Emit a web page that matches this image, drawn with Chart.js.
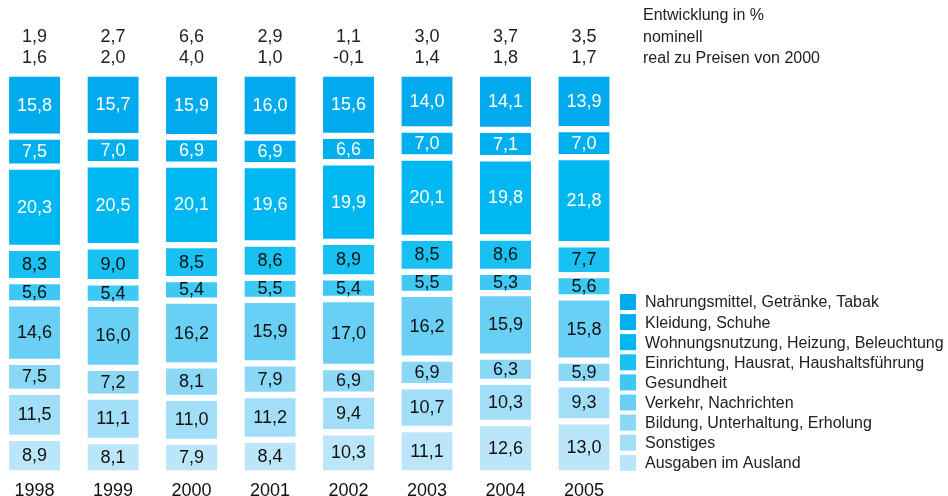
<!DOCTYPE html>
<html>
<head>
<meta charset="utf-8">
<script src="https://cdn.jsdelivr.net/npm/chart.js@4.4.0/dist/chart.umd.min.js"></script>
<style>
  body { margin: 0; background: #fff; }
  #wrap { width: 948px; height: 496px; }
</style>
</head>
<body>
<div id="wrap"><canvas id="chart" width="948" height="496"></canvas></div>
<script>
const years = ["1998", "1999", "2000", "2001", "2002", "2003", "2004", "2005"];

// Entwicklung in % (Zeilen oberhalb der Balken)
const nominell = [1.9, 2.7, 6.6, 2.9, 1.1, 3.0, 3.7, 3.5];
const real = [1.6, 2.0, 4.0, 1.0, -0.1, 1.4, 1.8, 1.7];

// Anteile in %, von oben nach unten gestapelt
const nahrung = [15.8, 15.7, 15.9, 16.0, 15.6, 14.0, 14.1, 13.9];
const kleidung = [7.5, 7.0, 6.9, 6.9, 6.6, 7.0, 7.1, 7.0];
const wohnung = [20.3, 20.5, 20.1, 19.6, 19.9, 20.1, 19.8, 21.8];
const einrichtung = [8.3, 9.0, 8.5, 8.6, 8.9, 8.5, 8.6, 7.7];
const gesundheit = [5.6, 5.4, 5.4, 5.5, 5.4, 5.5, 5.3, 5.6];
const verkehr = [14.6, 16.0, 16.2, 15.9, 17.0, 16.2, 15.9, 15.8];
const bildung = [7.5, 7.2, 8.1, 7.9, 6.9, 6.9, 6.3, 5.9];
const sonstiges = [11.5, 11.1, 11.0, 11.2, 9.4, 10.7, 10.3, 9.3];
const ausland = [8.9, 8.1, 7.9, 8.4, 10.3, 11.1, 12.6, 13.0];

const series = [
  { label: "Nahrungsmittel, Getränke, Tabak", data: nahrung, color: "#00aaec", text: "#fff" },
  { label: "Kleidung, Schuhe", data: kleidung, color: "#00b0ee", text: "#fff" },
  { label: "Wohnungsnutzung, Heizung, Beleuchtung", data: wohnung, color: "#00b8f1", text: "#fff" },
  { label: "Einrichtung, Hausrat, Haushaltsführung", data: einrichtung, color: "#19c1f3", text: "#111" },
  { label: "Gesundheit", data: gesundheit, color: "#3ec8f4", text: "#111" },
  { label: "Verkehr, Nachrichten", data: verkehr, color: "#6acff5", text: "#111" },
  { label: "Bildung, Unterhaltung, Erholung", data: bildung, color: "#8bd7f6", text: "#111" },
  { label: "Sonstiges", data: sonstiges, color: "#a3def8", text: "#111" },
  { label: "Ausgaben im Ausland", data: ausland, color: "#bbe6fa", text: "#111" }
];

const fmt = v => v.toFixed(1).replace(".", ",");
const FONT = "'Liberation Sans', Arial, sans-serif";
Chart.defaults.font.family = FONT;

// first dataset is stacked at the bottom, so reverse
const datasets = series.slice().reverse().map(s => ({
  label: s.label,
  data: s.data,
  backgroundColor: s.color,
  borderColor: "#ffffff",
  borderWidth: { top: 4, bottom: 3, left: 0, right: 0 },
  borderSkipped: false,
  barThickness: 51,
  clip: false,
  textColor: s.text
}));

const labelPlugin = {
  id: "labels",
  afterDatasetsDraw(chart) {
    const ctx = chart.ctx;
    ctx.save();
    ctx.font = "18px " + FONT;
    ctx.textAlign = "center";
    ctx.textBaseline = "middle";
    chart.data.datasets.forEach((ds, i) => {
      const meta = chart.getDatasetMeta(i);
      meta.data.forEach((bar, j) => {
        const p = bar.getProps(["x", "y", "base"], true);
        ctx.fillStyle = ds.textColor;
        ctx.fillText(fmt(ds.data[j]), p.x, (p.y + p.base) / 2 + 1);
      });
    });
    ctx.restore();
  },
  afterDraw(chart) {
    const ctx = chart.ctx;
    const xs = chart.scales.x;
    ctx.save();
    ctx.font = "18px " + FONT;
    ctx.fillStyle = "#222";
    ctx.textAlign = "center";
    ctx.textBaseline = "alphabetic";
    years.forEach((y, j) => {
      const x = xs.getPixelForValue(j);
      ctx.fillText(fmt(nominell[j]), x, 42);
      ctx.fillText(fmt(real[j]), x, 63);
    });
    ctx.font = "16px " + FONT;
    ctx.textAlign = "left";
    ctx.fillText("Entwicklung in %", 643, 20);
    ctx.fillText("nominell", 643, 42);
    ctx.fillText("real zu Preisen von 2000", 643, 63);

    // legend
    ctx.textBaseline = "middle";
    series.forEach((s, i) => {
      const y = 294 + i * 20.1;
      ctx.fillStyle = s.color;
      ctx.fillRect(620, y, 16, 16);
      ctx.fillStyle = "#222";
      ctx.fillText(s.label, 645, y + 9);
    });
    ctx.restore();
  }
};

new Chart(document.getElementById("chart"), {
  type: "bar",
  data: { labels: years, datasets: datasets },
  options: {
    responsive: false,
    animation: false,
    layout: { padding: { top: 73, bottom: -13.5, left: 34.6, right: 364 } },
    plugins: {
      tooltip: { enabled: false },
      legend: { display: false }
    },
    scales: {
      x: {
        stacked: true,
        offset: false,
        grid: { display: false, drawTicks: false },
        border: { display: false },
        ticks: {
          padding: 7.5,
          color: "#111",
          font: { size: 18 },
          maxRotation: 0,
          autoSkip: false
        }
      },
      y: {
        stacked: true,
        min: 0,
        max: 100,
        display: false
      }
    }
  },
  plugins: [labelPlugin]
});
</script>
</body>
</html>
